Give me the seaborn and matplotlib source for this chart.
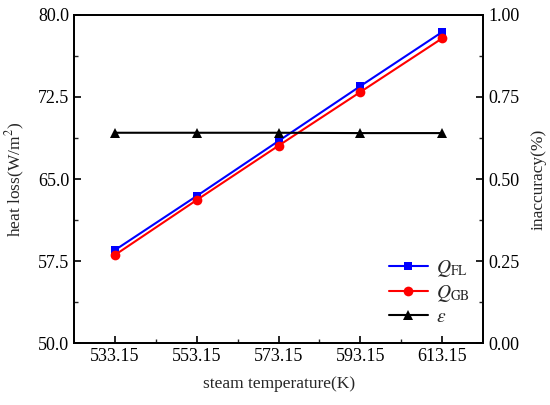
import matplotlib
matplotlib.use("Agg")
import matplotlib.pyplot as plt
import seaborn as sns
import pandas as pd
from matplotlib.ticker import FixedLocator, FormatStrFormatter

temperature = [533.15, 553.15, 573.15, 593.15, 613.15]
q_fl = [58.5, 63.45, 68.48, 73.5, 78.45]
q_gb = [58.05, 63.08, 68.05, 72.96, 77.87]
inaccuracy = [0.641, 0.641, 0.641, 0.640, 0.640]
left_ticks = [50.0, 57.5, 65.0, 72.5, 80.0]
right_ticks = [0.0, 0.25, 0.5, 0.75, 1.0]

sns.set_style("ticks")
plt.rcParams['font.family'] = ['Liberation Serif', 'DejaVu Serif']
plt.rcParams['mathtext.fontset'] = 'stix'
plt.rcParams['xtick.direction'] = 'in'
plt.rcParams['ytick.direction'] = 'in'

df = pd.DataFrame({"T": temperature, "FL": q_fl, "GB": q_gb, "eps": inaccuracy})

fig = plt.figure(figsize=(5.5, 4.05), dpi=100)
ax = fig.add_axes([0.1345, 0.153, 0.744, 0.81])
ax2 = ax.twinx()

sns.lineplot(data=df, x="T", y="FL", ax=ax, color="#0000ff", marker="s", markersize=6,
             markeredgewidth=0, linewidth=1.5, label=r"$Q_{\rm FL}$", legend=False)
sns.lineplot(data=df, x="T", y="GB", ax=ax, color="#ff0000", marker="o", markersize=7,
             markeredgewidth=0, linewidth=1.5, label=r"$Q_{\rm GB}$", legend=False)
sns.lineplot(data=df, x="T", y="eps", ax=ax2, color="black", marker="^", markersize=7,
             markeredgewidth=0, linewidth=1.5, label=r"$\varepsilon$", legend=False)

ax.set_xlim(523.15, 623.15)
ax.set_ylim(50, 80)
ax2.set_ylim(0, 1.0)

ax.xaxis.set_major_locator(FixedLocator(temperature))
ax.xaxis.set_minor_locator(FixedLocator([543.15, 563.15, 583.15, 603.15]))
ax.xaxis.set_major_formatter(FormatStrFormatter("%.2f"))
ax.yaxis.set_major_locator(FixedLocator(left_ticks))
ax.yaxis.set_minor_locator(FixedLocator([53.75, 61.25, 68.75, 76.25]))
ax.yaxis.set_major_formatter(FormatStrFormatter("%.1f"))
ax2.yaxis.set_major_locator(FixedLocator(right_ticks))
ax2.yaxis.set_minor_locator(FixedLocator([0.125, 0.375, 0.625, 0.875]))
ax2.yaxis.set_major_formatter(FormatStrFormatter("%.2f"))

for a in (ax, ax2):
    a.tick_params(which="major", length=5, width=1.2, labelsize=13, colors="black")
    a.tick_params(which="minor", length=3, width=1.0)
    for s in a.spines.values():
        s.set_linewidth(1.3)
        s.set_color("black")
ax.tick_params(axis="y", right=False, which="both")
ax.tick_params(axis="x", top=False, which="both")

ax.set_xlabel("steam temperature(K)", fontsize=12.5, labelpad=8)
ax.set_ylabel(r"heat loss(W/m$^2$)", fontsize=12.5, labelpad=8)
ax2.set_ylabel("inaccuracy(%)", fontsize=12.5, labelpad=8)

h1, l1 = ax.get_legend_handles_labels()
h2, l2 = ax2.get_legend_handles_labels()
leg = ax2.legend(h1 + h2, l1 + l2, loc="lower right", bbox_to_anchor=(1.01, 0.0),
                 frameon=False, fontsize=14, handlelength=2.0, labelspacing=0.2,
                 handletextpad=0.4)

fig.savefig("out.png", dpi=100)
